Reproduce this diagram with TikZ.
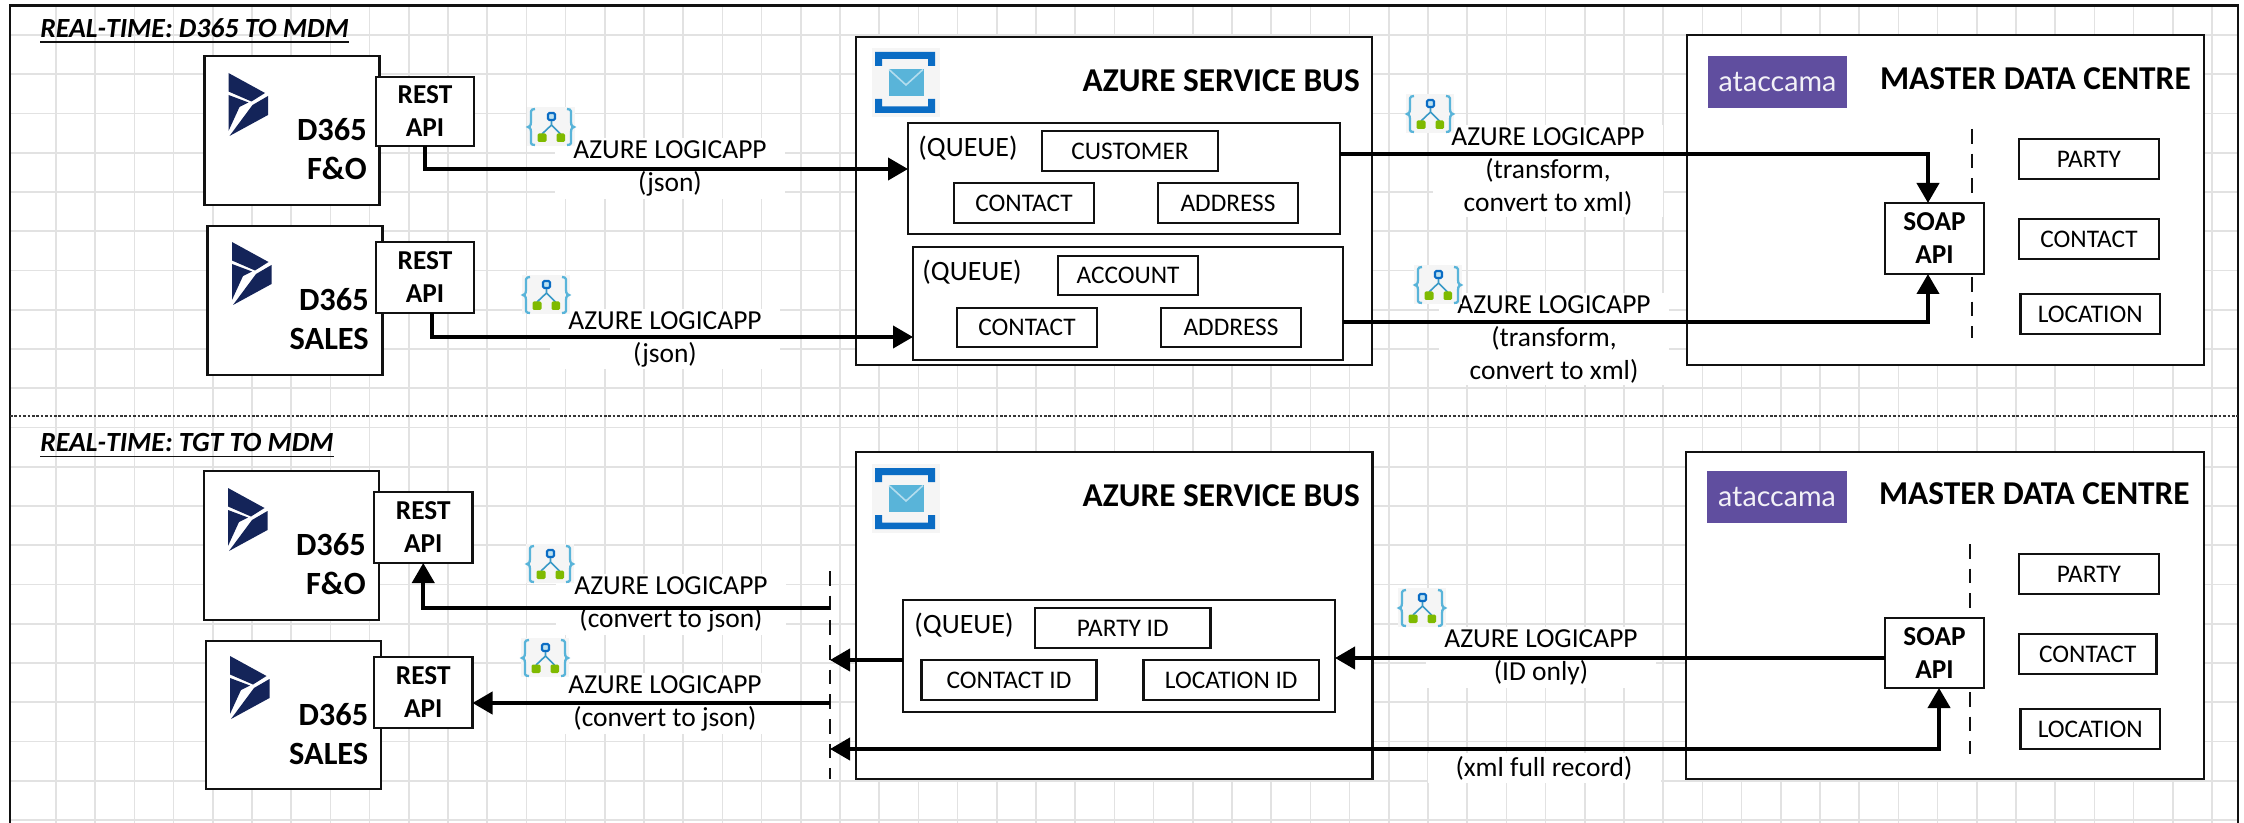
\documentclass[tikz,border=0pt]{standalone}
\usepackage{fontspec}
\setmainfont{Carlito}
\newfontfamily\latofont{Lato}
\usetikzlibrary{arrows.meta,calc}
\definecolor{gridc}{HTML}{E2E2E2}
\definecolor{inkc}{HTML}{111111}
\definecolor{iconbg}{HTML}{F5F5F5}
\definecolor{bracec}{HTML}{59B4D9}
\definecolor{flowc}{HTML}{3999C6}
\definecolor{bluec}{HTML}{0A6CC4}
\definecolor{greenc}{HTML}{7FBA00}
\definecolor{envc}{HTML}{59B4D9}
\definecolor{navyc}{HTML}{142459}
\definecolor{ataccc}{HTML}{604E9F}
\newcommand{\rbox}[7]{\node[#6,minimum width={(#4-#2)*0.75pt},minimum height={(#5-#3)*0.75pt}] (#1) at ({(#2+#4)/2},{(#3+#5)/2}) {#7};}
\tikzset{
  bx/.style={draw=inkc,fill=white,line width=1.9pt,inner sep=0pt,outer sep=0pt,align=center,text=black},
  bigbox/.style={bx},
  apibox/.style={bx,font=\fontsize{20.5}{24.75}\selectfont\bfseries},
  qbox/.style={bx},
  itembox/.style={bx,font=\fontsize{19}{22}\selectfont},
  atbox/.style={fill=ataccc,inner sep=0pt,outer sep=0pt,text=white!92!ataccc,font=\fontsize{21.5}{26}\latofont},
  lab/.style={fill=white,align=center,inner xsep=14pt,inner ysep=2pt,font=\fontsize{20.6}{24.75}\selectfont,text=black},
  qtxt/.style={inner sep=0pt,font=\fontsize{21}{24.75}\selectfont,text=black},
  sysname/.style={inner sep=0pt,align=right,anchor=east,font=\fontsize{24.3}{29.25}\selectfont\bfseries,text=black},
  head/.style={inner sep=0pt,anchor=east,font=\fontsize{25}{28}\selectfont\bfseries,text=black},
  sect/.style={inner sep=0pt,anchor=west,font=\fontsize{20.8}{24}\selectfont\bfseries\itshape,text=black},
  flow/.style={draw=black,line width=3pt,-{Triangle[length=15pt,width=16.5pt]}},
  plain/.style={draw=black,line width=3pt},
  twoway/.style={draw=black,line width=3pt,{Triangle[length=15pt,width=16.5pt]}-{Triangle[length=15pt,width=16.5pt]}},
  vdash/.style={draw=inkc,line width=1.6pt,dash pattern=on 11pt off 7.5pt},
  logicapp/.pic={
    \fill[iconbg] (0,0) rectangle (48,39);
    \draw[bracec,line width=1.7pt] (8,2) .. controls (3,2) and (4,5) .. (4,10) -- (4,15) .. controls (4,19) and (2,20) .. (1,20) .. controls (2,20) and (4,21) .. (4,25) -- (4,31) .. controls (4,36) and (3,38) .. (8,38);
    \draw[bracec,line width=1.7pt] (40,2) .. controls (45,2) and (44,5) .. (44,10) -- (44,15) .. controls (44,19) and (46,20) .. (47,20) .. controls (46,20) and (44,21) .. (44,25) -- (44,31) .. controls (44,36) and (45,38) .. (40,38);
    \draw[flowc,line width=1.2pt] (24.5,13) -- (24.5,18) -- (15,27) (24.5,18) -- (33.5,27);
    \draw[bluec,fill=white!60!bracec,line width=1.6pt,rounded corners=1pt] (21,6) rectangle (28,13);
    \fill[greenc,rounded corners=1pt] (10.5,26.5) rectangle (19.5,35);
    \fill[greenc,rounded corners=1pt] (29.5,26.5) rectangle (38,35);
  },
  mailicon/.pic={
    \fill[iconbg] (0,0) rectangle (68,69);
    \fill[bluec] (3,4) -- (63,4) -- (63,18) -- (56,18) -- (56,11) -- (10,11) -- (10,18) -- (3,18) -- cycle;
    \fill[bluec] (3,51) -- (10,51) -- (10,58.5) -- (56,58.5) -- (56,51) -- (63,51) -- (63,65) -- (3,65) -- cycle;
    \fill[envc] (16.5,21) rectangle (51.5,48);
    \draw[white!55!envc,line width=1.2pt] (17,21.5) -- (34,37) -- (51,21.5);
  },
  dlogo/.pic={
    \fill[navyc] (0,0) -- (36.5,20) -- (23,28.5) -- (0,18.5) -- cycle;
    \fill[navyc] (0,22) -- (20,29.5) -- (11,34) -- (0,58) -- cycle;
    \fill[navyc] (39.5,23) -- (39.5,42) -- (1,63) -- (24,32) -- cycle;
  },
}
\begin{document}
\begin{tikzpicture}[x=0.75pt,y=-0.75pt]
\useasboundingbox (0,0) rectangle (2244,823);
\fill[white] (0,0) rectangle (2244,823);
% grid
\foreach \k in {0,...,55} {\draw[gridc,line width=1.3pt] ({56+39.2*\k},6) -- ({56+39.2*\k},823);}
\foreach \k in {0,...,20} {\draw[gridc,line width=1.3pt] (10,{35+39.25*\k}) -- (2238,{35+39.25*\k});}
% frame and divider
\coordinate (fa) at (10,823);
\coordinate (fb) at (10,5.5);
\coordinate (fc) at (2238,5.5);
\coordinate (fd) at (2238,823);
\draw[inkc,line width=1.8pt] (fa) -- (fb) -- (fc) -- (fd);
\coordinate (da) at (10,416);
\coordinate (db) at (2238,416);
\draw[inkc!85!white,line width=2.2pt,dash pattern=on 2pt off 1.3pt] (da) -- (db);
% section titles
\node[sect] (t1) at (40,28) {REAL-TIME: D365 TO MDM};
\node[sect] (t2) at (40,443) {REAL-TIME: TGT TO MDM};
\draw[inkc,line width=1.4pt] ([yshift=-3.4pt]t1.base west) -- ([yshift=-3.4pt]t1.base east);
\draw[inkc,line width=1.4pt] ([yshift=-3.4pt]t2.base west) -- ([yshift=-3.4pt]t2.base east);
% connector labels (with their white backing)
\node[lab] (l1) at (670,168.5) {AZURE LOGICAPP\\(json)};
\node[lab] (l2) at (665,339) {AZURE LOGICAPP\\(json)};
\node[lab] (l3) at (1548,171) {AZURE LOGICAPP\\(transform,\\convert to xml)};
\node[lab] (l4) at (1554,339) {AZURE LOGICAPP\\(transform,\\convert to xml)};
\node[lab] (l5) at (671,604.5) {AZURE LOGICAPP\\(convert to json)};
\node[lab] (l6) at (665,703.5) {AZURE LOGICAPP\\(convert to json)};
\node[lab] (l7) at (1541,657.5) {AZURE LOGICAPP\\(ID only)};
\node[lab,inner xsep=21pt] (l8) at (1544,768) {(xml full record)};
% D365 top
\rbox{d1}{204.5}{56}{379.5}{205}{bigbox}{}
\rbox{d2}{207.5}{226}{382.5}{375}{bigbox}{}
\pic at (228.5,73) {dlogo};
\pic at (232,242) {dlogo};
\node[sysname] (d1t) at (367,149.5) {D365\\F\&O};
\node[sysname] (d2t) at (369,319) {D365\\SALES};
\rbox{r1}{376}{77}{474}{146}{apibox}{REST\\API}
\rbox{r2}{376}{242}{474}{313}{apibox}{REST\\API}
% Service bus top
\rbox{b1}{856}{37}{1372}{365}{bigbox}{}
\pic at (872,48) {mailicon};
\node[head] (b1t) at (1360,81) {AZURE SERVICE BUS};
\rbox{q1}{908}{123}{1340}{234}{qbox}{}
\node[qtxt] (q1t) at (968,148) {(QUEUE)};
\rbox{q1a}{1042}{131}{1218}{171}{itembox}{CUSTOMER}
\rbox{q1b}{954}{183}{1094}{223}{itembox}{CONTACT}
\rbox{q1c}{1158}{183}{1298}{223}{itembox}{ADDRESS}
\rbox{q2}{913}{247}{1343}{360}{qbox}{}
\node[qtxt] (q2t) at (972,272) {(QUEUE)};
\rbox{q2a}{1058}{256}{1198}{295}{itembox}{ACCOUNT}
\rbox{q2b}{957}{308}{1097}{347}{itembox}{CONTACT}
\rbox{q2c}{1161}{308}{1301}{347}{itembox}{ADDRESS}
% MDM top
\rbox{m1}{1687}{35}{2204}{365}{bigbox}{}
\rbox{a1}{1708}{56}{1847}{108}{atbox}{ataccama}
\node[head] (m1t) at (2191,79) {MASTER DATA CENTRE};
\coordinate (m1da) at (1972,129);
\coordinate (m1db) at (1972,338);
\draw[vdash] (m1da) -- (m1db);
\rbox{s1}{1885}{203}{1984}{274}{apibox}{SOAP\\API}
\rbox{m1a}{2019}{139}{2159}{179}{itembox}{PARTY}
\rbox{m1b}{2019}{219}{2159}{259}{itembox}{CONTACT}
\rbox{m1c}{2020.5}{294}{2160}{334}{itembox}{LOCATION}
% D365 bottom
\rbox{d3}{204}{471}{379}{620}{bigbox}{}
\rbox{d4}{206}{641}{381}{789}{bigbox}{}
\pic at (228,488) {dlogo};
\pic at (230,656) {dlogo};
\node[sysname] (d3t) at (366,564.5) {D365\\F\&O};
\node[sysname] (d4t) at (368.5,734) {D365\\SALES};
\rbox{r3}{374}{492}{472.5}{563}{apibox}{REST\\API}
\rbox{r4}{374}{657}{472.5}{728}{apibox}{REST\\API}
% Service bus bottom
\rbox{b2}{856}{452}{1372.5}{779}{bigbox}{}
\pic at (872,464) {mailicon};
\node[head] (b2t) at (1360,496) {AZURE SERVICE BUS};
\rbox{q3}{903}{600}{1335}{712}{qbox}{}
\node[qtxt] (q3t) at (964,625) {(QUEUE)};
\rbox{q3a}{1035}{608}{1210.5}{648}{itembox}{PARTY ID}
\rbox{q3b}{921.5}{660}{1096.5}{700}{itembox}{CONTACT ID}
\rbox{q3c}{1143.5}{660}{1319}{700}{itembox}{LOCATION ID}
% MDM bottom
\rbox{m2}{1686}{452}{2204}{779}{bigbox}{}
\rbox{a2}{1707}{471}{1847}{523}{atbox}{ataccama}
\node[head] (m2t) at (2190,494) {MASTER DATA CENTRE};
\coordinate (m2da) at (1970,544);
\coordinate (m2db) at (1970,754);
\draw[vdash] (m2da) -- (m2db);
\rbox{s2}{1885}{618}{1984}{688}{apibox}{SOAP\\API}
\rbox{m2a}{2019}{554}{2159}{594}{itembox}{PARTY}
\rbox{m2b}{2019}{634}{2156.5}{674}{itembox}{CONTACT}
\rbox{m2c}{2020.5}{709}{2160}{749}{itembox}{LOCATION}
% Logic app icons
\pic at (527,107) {logicapp};
\pic at (522,275) {logicapp};
\pic at (1406,94) {logicapp};
\pic at (1414,265) {logicapp};
\pic at (526,544) {logicapp};
\pic at (521,638) {logicapp};
\pic at (1398,588) {logicapp};
% fan-out bar left of the bottom bus
\coordinate (fan) at (830,571);
\coordinate (fanb) at (830,779);
\draw[vdash] (fan) -- (fanb);
% row helpers
\coordinate (y1) at (0,169);
\coordinate (y2) at (0,337);
\coordinate (y3) at (0,154);
\coordinate (y4) at (0,322);
\coordinate (y5) at (0,608);
\coordinate (y6) at (0,703);
\coordinate (y7) at (0,660);
\coordinate (y8) at (0,658);
\coordinate (y9) at (0,749);
% connectors
\draw[flow] (r1.south) |- (q1.west |- y1);
\draw[flow] ([xshift=5pt]r2.south) |- (q2.west |- y2);
\draw[flow] (q1.east |- y3) -| ([xshift=-4.9pt]s1.north);
\draw[flow] (q2.east |- y4) -| ([xshift=-4.9pt]s1.south);
\draw[flow] (fan |- y5) -| (r3.south);
\draw[flow] (fan |- y6) -- (r4.east |- y6);
\draw[flow] (q3.west |- y7) -- (fan |- y7);
\draw[flow] (s2.west |- y8) -- (q3.east |- y8);
\draw[twoway] (fan |- y9) -| ([xshift=3.4pt]s2.south);
\end{tikzpicture}
\end{document}
